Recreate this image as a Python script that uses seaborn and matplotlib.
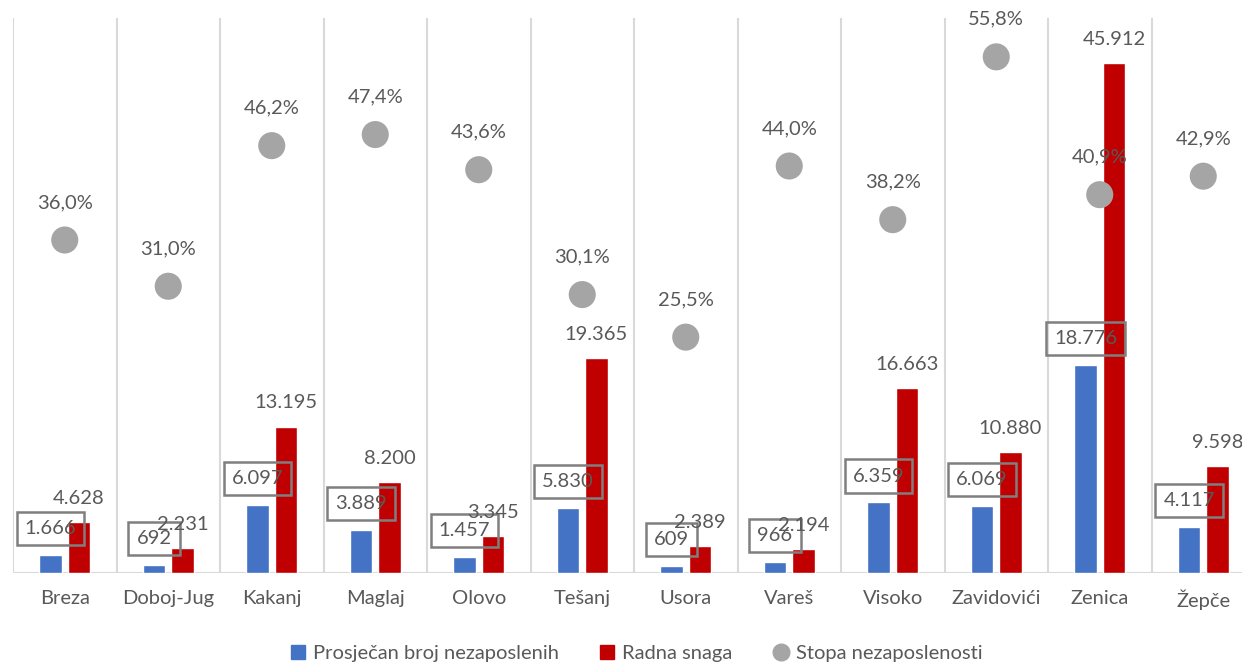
import numpy as np
import pandas as pd
import matplotlib
matplotlib.use("Agg")
import matplotlib.pyplot as plt
from matplotlib.lines import Line2D
import seaborn as sns

opcine = ["Breza", "Doboj-Jug", "Kakanj", "Maglaj", "Olovo", "Tešanj",
          "Usora", "Vareš", "Visoko", "Zavidovići", "Zenica", "Žepče"]
nezaposleni = [1666, 692, 6097, 3889, 1457, 5830, 609, 966, 6359, 6069, 18776, 4117]
radna_snaga = [4628, 2231, 13195, 8200, 3345, 19365, 2389, 2194, 16663, 10880, 45912, 9598]
stopa = [36.0, 31.0, 46.2, 47.4, 43.6, 30.1, 25.5, 44.0, 38.2, 55.8, 40.9, 42.9]

s1 = "Prosječan broj nezaposlenih"
s2 = "Radna snaga"
s3 = "Stopa nezaposlenosti"

blue, red, grey = "#4472C4", "#C00000", "#A5A5A5"
txt = "#595959"
fs = 14.5

sns.set_style("white")
plt.rcParams["font.family"] = ["Lato", "DejaVu Sans"]
plt.rcParams["font.size"] = fs

df = pd.DataFrame({
    "opcina": opcine * 2,
    "serija": [s1] * len(opcine) + [s2] * len(opcine),
    "vrijednost": nezaposleni + radna_snaga,
})

def fmt(v):
    return "{:,}".format(v).replace(",", ".")

fig = plt.figure(figsize=(12.42, 6.64), dpi=100)
ax = fig.add_axes([13 / 1242, 1 - 573 / 664, 1242 / 1242, 555 / 664])

sns.barplot(data=df, x="opcina", y="vrijednost", hue="serija",
            palette=[blue, red], width=0.55, gap=0.2, ax=ax,
            legend=False, saturation=1)
ax.set_ylim(0, 50000)
ax.set_xlim(-0.5, len(opcine) - 0.5)
ax.set_xlabel("")
ax.set_ylabel("")
ax.set_yticks([])
for sp in ax.spines.values():
    sp.set_visible(False)
ax.axhline(0, color="#D9D9D9", lw=1.5, zorder=0)
ax.set_xticks(np.arange(-0.5, len(opcine)), minor=True)
ax.grid(which="minor", axis="x", color="#D9D9D9", lw=1.5)
ax.tick_params(axis="x", which="both", length=0, pad=12, labelsize=fs, labelcolor=txt)

x = np.arange(len(opcine))
off = 0.1375
for i in range(len(opcine)):
    ax.annotate(fmt(nezaposleni[i]), (x[i] - off, nezaposleni[i]), xytext=(0, 19),
                textcoords="offset points", ha="center", va="center", color=txt,
                fontsize=fs,
                bbox=dict(boxstyle="square,pad=0.4", fc="none", ec="#7F7F7F", lw=1.8))
    ax.annotate(fmt(radna_snaga[i]), (x[i] + off, radna_snaga[i]), xytext=(0, 17),
                textcoords="offset points", ha="center", va="center", color=txt,
                fontsize=fs)

ax2 = ax.twinx()
sns.scatterplot(x=x, y=stopa, ax=ax2, s=380, color=grey, edgecolor="none", zorder=5)
ax2.set_ylim(0, 60)
ax2.set_yticks([])
for sp in ax2.spines.values():
    sp.set_visible(False)
for i in range(len(opcine)):
    ax2.annotate("{:.1f}%".format(stopa[i]).replace(".", ","), (x[i], stopa[i]),
                 xytext=(0, 27), textcoords="offset points", ha="center", va="center",
                 color=txt, fontsize=fs)

handles = [
    Line2D([], [], marker="s", ls="none", color=blue, markersize=10),
    Line2D([], [], marker="s", ls="none", color=red, markersize=10),
    Line2D([], [], marker="o", ls="none", color=grey, markersize=12),
]
fig.legend(handles, [s1, s2, s3], loc="center", bbox_to_anchor=(0.512, 1 - 653 / 664),
           ncol=3, frameon=False, handlelength=0.8, handletextpad=0.35,
           columnspacing=2.0, fontsize=fs, labelcolor=txt)

fig.savefig("out.png", dpi=100)
